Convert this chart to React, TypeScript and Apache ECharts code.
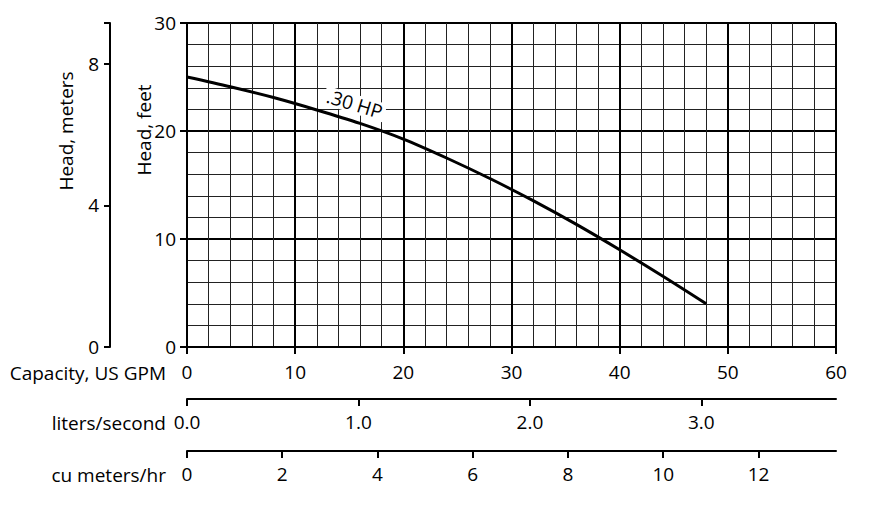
import React, { useEffect, useRef } from "react";
import * as echarts from "echarts";

const gpm = [0, 4, 8, 12, 16, 20, 24, 28, 32, 36, 40, 44, 48];
const headFt = [25.0, 24.1, 23.1, 21.95, 20.7, 19.25, 17.5, 15.6, 13.55, 11.35, 9.0, 6.55, 4.0];
const curveLabel = ".30 HP";
const curveLabelAt = [15.5, 22.5];

const gpmTicks = [0, 10, 20, 30, 40, 50, 60];
const feetTicks = [0, 10, 20, 30];
const meterTicks = [0, 4, 8];
const lpsTicks = [0, 1, 2, 3];
const cmhTicks = [0, 2, 4, 6, 8, 10, 12];

const GPM_MAX = 60;
const FT_MAX = 30;
const M_MAX = FT_MAX * 0.3048;
const LPS_MAX = GPM_MAX * 0.0630902;
const CMH_MAX = GPM_MAX * 0.227125;

const FONT = "Open Sans";
const FS = 19;

export default function App() {
  const ref = useRef<HTMLDivElement>(null);
  useEffect(() => {
    const chart = echarts.init(ref.current!, undefined, { renderer: "svg" });
    const axisText = { color: "#000", fontFamily: FONT, fontSize: FS };
    const line = { lineStyle: { color: "#000", width: 2 } };
    const option: any = {
      animation: false,
      backgroundColor: "#fff",
      grid: { left: 187, top: 23, width: 649, height: 324 },
      xAxis: [
        {
          type: "value",
          min: 0,
          max: GPM_MAX,
          interval: 10,
          position: "bottom",
          axisLine: { show: true, ...line, onZero: false },
          axisTick: { show: true, length: 7, lineStyle: { color: "#000", width: 2 }, customValues: gpmTicks },
          axisLabel: { ...axisText, margin: 15, customValues: gpmTicks },
          splitLine: { show: true, lineStyle: { color: "#000", width: 2 } },
          minorTick: { show: false, splitNumber: 5 },
          minorSplitLine: { show: true, lineStyle: { color: "#222", width: 1 } },
        },
        {
          type: "value",
          min: 0,
          max: LPS_MAX,
          position: "bottom",
          offset: 52,
          axisLine: { show: true, ...line, onZero: false },
          axisTick: { show: true, length: 7, lineStyle: { color: "#000", width: 2 }, customValues: lpsTicks },
          axisLabel: { ...axisText, margin: 13, customValues: lpsTicks, formatter: (v: number) => v.toFixed(1) },
          splitLine: { show: false },
        },
        {
          type: "value",
          min: 0,
          max: CMH_MAX,
          position: "bottom",
          offset: 104,
          axisLine: { show: true, ...line, onZero: false },
          axisTick: { show: true, length: 7, lineStyle: { color: "#000", width: 2 }, customValues: cmhTicks },
          axisLabel: { ...axisText, margin: 13, customValues: cmhTicks },
          splitLine: { show: false },
        },
      ],
      yAxis: [
        {
          type: "value",
          min: 0,
          max: FT_MAX,
          interval: 10,
          position: "left",
          axisLine: { show: true, ...line, onZero: false },
          axisTick: { show: true, length: 7, lineStyle: { color: "#000", width: 2 }, customValues: feetTicks },
          axisLabel: { ...axisText, margin: 11, customValues: feetTicks },
          splitLine: { show: true, lineStyle: { color: "#000", width: 2 } },
          minorTick: { show: false, splitNumber: 5 },
          minorSplitLine: { show: true, lineStyle: { color: "#222", width: 1 } },
        },
        {
          type: "value",
          min: 0,
          max: M_MAX,
          position: "left",
          offset: 77,
          axisLine: { show: true, ...line, onZero: false },
          axisTick: { show: true, length: 6, lineStyle: { color: "#000", width: 2 }, customValues: [...meterTicks, M_MAX] },
          axisLabel: { ...axisText, margin: 11, customValues: meterTicks },
          splitLine: { show: false },
        },
      ],
      graphic: [
        { type: "text", x: 66, y: 131, rotation: Math.PI / 2, style: { text: "Head, meters", fill: "#000", font: `${FS}px "${FONT}"`, align: "center", verticalAlign: "middle" } },
        { type: "text", x: 144, y: 130, rotation: Math.PI / 2, style: { text: "Head, feet", fill: "#000", font: `${FS}px "${FONT}"`, align: "center", verticalAlign: "middle" } },
        { type: "text", x: 166, y: 373, style: { text: "Capacity, US GPM", fill: "#000", font: `${FS}px "${FONT}"`, align: "right", verticalAlign: "middle" } },
        { type: "text", x: 166, y: 423, style: { text: "liters/second", fill: "#000", font: `${FS}px "${FONT}"`, align: "right", verticalAlign: "middle" } },
        { type: "text", x: 166, y: 475, style: { text: "cu meters/hr", fill: "#000", font: `${FS}px "${FONT}"`, align: "right", verticalAlign: "middle" } },
      ],
      series: [
        {
          type: "line",
          xAxisIndex: 0,
          yAxisIndex: 0,
          data: gpm.map((g, i) => [g, headFt[i]]),
          showSymbol: false,
          smooth: 0.3,
          lineStyle: { color: "#000", width: 3 },
          z: 5,
          markPoint: {
            symbol: "circle",
            symbolSize: 0,
            z: 6,
            data: [
              {
                coord: curveLabelAt,
                label: {
                  show: true,
                  position: "inside",
                  formatter: curveLabel,
                  rotate: -17,
                  color: "#000",
                  fontFamily: FONT,
                  fontSize: FS,
                  backgroundColor: "#fff",
                  padding: [0, 3, 0, 3],
                },
              },
            ],
          },
        },
      ],
    };
    chart.setOption(option);
    return () => chart.dispose();
  }, []);
  return <div ref={ref} style={{ position: "fixed", left: 0, top: 0, width: 887, height: 512 }} />;
}
